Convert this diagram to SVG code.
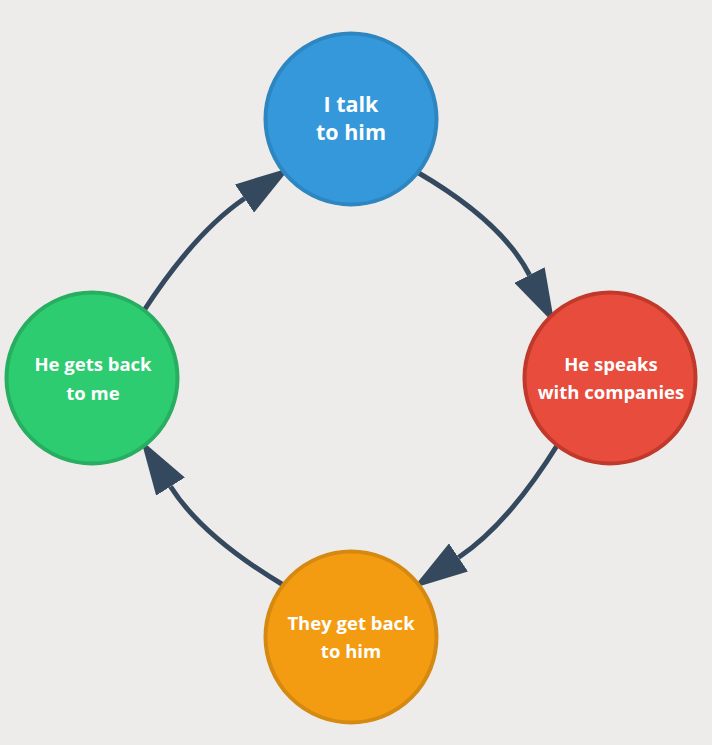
<svg xmlns="http://www.w3.org/2000/svg" width="712" height="745" viewBox="0 0 712 745">
  <style>
    .node circle { stroke-width: 4; }
    .label { font-family: "Open Sans", "Noto Sans", "Liberation Sans", sans-serif; font-weight: bold; fill: #ffffff; text-anchor: middle; font-size: 18.5px; }
    .big { font-size: 21.5px; }
    .conn { fill: none; stroke: #34495e; stroke-width: 5; }
  </style>
  <defs>
    <marker id="arrow" markerUnits="userSpaceOnUse" viewBox="0 -17 55 34" markerWidth="55" markerHeight="34" refX="0" refY="0" orient="auto">
      <path d="M0,-17 L55,0 L0,17 Z" fill="#34495e"/>
    </marker>
  </defs>
  <rect x="0" y="0" width="712" height="745" fill="#eeeceb"/>
  <g id="connectors">
    <path class="conn" d="M417,172 Q502.2,221.5 529.5,275" marker-end="url(#arrow)"/>
    <path class="conn" d="M558,444 Q508.3,524.1 458.5,557.5" marker-end="url(#arrow)"/>
    <path class="conn" d="M285,586 Q202.6,537.1 170.5,486.5" marker-end="url(#arrow)"/>
    <path class="conn" d="M143,312 Q194.8,232.2 244.5,198.5" marker-end="url(#arrow)"/>
  </g>
  <g id="node-talk" class="node">
    <circle cx="351" cy="119" r="85.5" fill="#3498db" stroke="#2e86c1"/>
    <text class="label big" x="351" y="112">I talk</text>
    <text class="label big" x="351" y="140">to him</text>
  </g>
  <g id="node-speaks" class="node">
    <circle cx="610" cy="378" r="85.5" fill="#e74c3c" stroke="#c0392b"/>
    <text class="label" x="611" y="371">He speaks</text>
    <text class="label" x="611" y="399">with companies</text>
  </g>
  <g id="node-they" class="node">
    <circle cx="351" cy="637" r="85.5" fill="#f39c12" stroke="#d68910"/>
    <text class="label" x="351" y="630">They get back</text>
    <text class="label" x="351" y="658">to him</text>
  </g>
  <g id="node-he" class="node">
    <circle cx="92" cy="378" r="85.5" fill="#2ecc71" stroke="#27ae60"/>
    <text class="label" x="93" y="371">He gets back</text>
    <text class="label" x="93" y="400">to me</text>
  </g>
</svg>
